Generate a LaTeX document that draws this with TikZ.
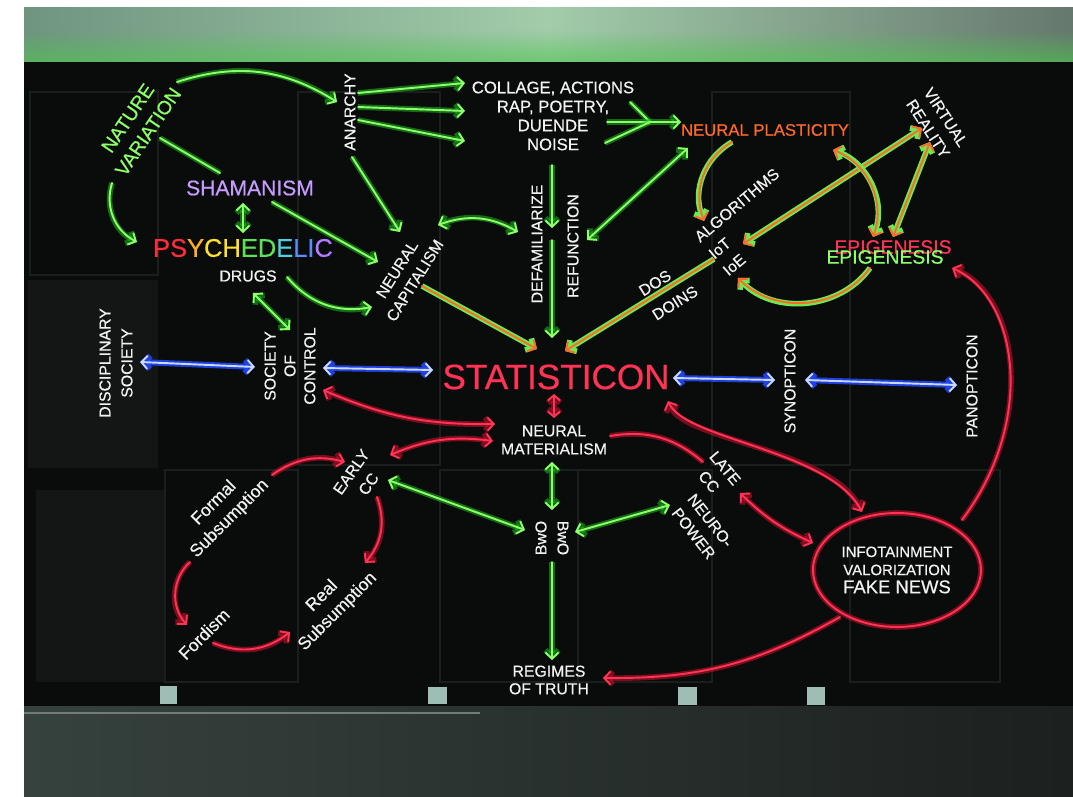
\documentclass[tikz,border=0pt]{standalone}
\usepackage{fontspec}
\setmainfont{Liberation Sans}[FakeBold=0.5]
\usetikzlibrary{arrows.meta,calc,shapes.geometric,fadings}
\definecolor{ngreen}{HTML}{8CFF6A}
\definecolor{ngreenglow}{HTML}{1FB81F}
\definecolor{nred}{HTML}{FF3355}
\definecolor{nredglow}{HTML}{C0102A}
\definecolor{nbluecore}{HTML}{C8D8FF}
\definecolor{nblueglow}{HTML}{2248FF}
\definecolor{norange}{HTML}{FF6A2A}
\definecolor{nwhite}{HTML}{F2F2F2}
\definecolor{npurple}{HTML}{C59BFF}
\definecolor{wall}{HTML}{0A0C0B}
\definecolor{panel}{HTML}{131615}
\definecolor{panelline}{HTML}{1A1E1C}
\definecolor{topL}{HTML}{6F9480}
\definecolor{topM}{HTML}{A2CCAA}
\definecolor{topR}{HTML}{66786E}
\definecolor{floorL}{HTML}{36423E}
\definecolor{floorR}{HTML}{1C201F}
\definecolor{outlet}{HTML}{9DBDB5}
\definecolor{pR}{HTML}{FF2A3A}
\definecolor{pY}{HTML}{FFB020}
\definecolor{pYY}{HTML}{FFE030}
\definecolor{pG}{HTML}{5FE05A}
\definecolor{pC}{HTML}{50D0E0}
\definecolor{pB}{HTML}{5A8CFF}
\definecolor{pP}{HTML}{B07CFF}
\begin{document}
\begin{tikzpicture}[x=0.02cm, y=-0.02cm, >={Straight Barb[length=3.5pt,width=7.5pt]}]
\tikzset{
  lab/.style={text=nwhite, font=\fontsize{9}{11}\selectfont, align=center, inner sep=0pt},
  neon/.style={line width=1.1pt, line cap=round, line join=round},
  gline/.style={neon, draw=ngreen, preaction={draw=ngreenglow, line width=3.2pt, opacity=0.55}},
  rline/.style={neon, draw=nred, preaction={draw=nredglow, line width=3.2pt, opacity=0.6}},
  bline/.style={neon, draw=nbluecore, preaction={draw=nblueglow, line width=3.4pt, opacity=0.85}},
  oline/.style={neon, draw=norange, preaction={draw=ngreen!70!ngreenglow, line width=3.2pt}},
}
\useasboundingbox (0,0) rectangle (1073,797);
% photo background
\fill[white] (0,0) rectangle (1073,797);
\fill[wall] (24,60) rectangle (1073,706);
\shade[left color=topL, right color=topR, middle color=topM] (24,8) rectangle (1073,62);
\fill[ngreenglow!80!white, path fading=north, fill opacity=0.6] (24,30) rectangle (1073,62);
\shade[left color=floorL, right color=floorR] (24,706) rectangle (1073,797);
\draw[floorL!70!white, line width=0.6pt] (24,713) -- (480,713);
% wall panels
\fill[panel] (28,280) rectangle (158,468);
\fill[panel] (36,490) rectangle (165,682);
\draw[panelline, line width=0.8pt] (30,92) rectangle (158,275) (165,470) rectangle (298,682)
  (298,92) rectangle (440,465) (440,470) rectangle (578,682) (578,470) rectangle (712,682)
  (712,92) rectangle (850,465) (850,470) rectangle (1000,682);
% outlets
\fill[outlet] (160,686) rectangle (177,704);
\fill[outlet] (428,687) rectangle (447,704);
\fill[outlet] (678,687) rectangle (697,705);
\fill[outlet] (807,687) rectangle (825,705);

% ---------- nodes ----------
\node[lab, text=ngreen, font=\fontsize{11}{14}\selectfont, rotate=56] (nv) at (138,125) {NATURE\\VARIATION};
\node[lab, text=npurple, font=\fontsize{12}{14}\selectfont] (sham) at (250,188) {SHAMANISM};
\node[lab, font=\fontsize{14.5}{16}\selectfont] (psy) at (243,248)
  {{\color{pR}PS}{\color{pY}Y}{\color{pYY}CH}{\color{pG}ED}{\color{pC}E}{\color{pB}LI}{\color{pP}C}};
\node[lab] (drugs) at (248,276) {DRUGS};
\node[lab, rotate=90] (anar) at (350,112) {ANARCHY};
\node[lab, font=\fontsize{9.5}{10.8}\selectfont] (coll) at (553,116) {COLLAGE, ACTIONS\\RAP, POETRY,\\DUENDE\\NOISE};
\node[lab, text=norange, font=\fontsize{9.5}{11}\selectfont] (np) at (765,130) {NEURAL PLASTICITY};
\node[lab, rotate=-57, font=\fontsize{9}{12}\selectfont] (vr) at (937,123) {VIRTUAL\\REALITY};
\node[lab, rotate=40, align=left, font=\fontsize{9}{12.5}\selectfont] (alg) at (751,222) {ALGORITHMS\\IoT\\IoE};
\node[lab, text=nred, font=\fontsize{11}{12}\selectfont] (epir) at (893,247) {EPIGENESIS};
\node[lab, text=ngreen, font=\fontsize{11}{12}\selectfont] (epig) at (885,257) {EPIGENESIS};
\node[lab, rotate=90] (defam) at (537,244) {DEFAMILIARIZE};
\node[lab, rotate=90] (refun) at (573,246) {REFUNCTION};
\node[lab, rotate=58, font=\fontsize{9}{12}\selectfont] (ncap) at (406,275) {NEURAL\\CAPITALISM};
\node[lab, rotate=32] (dos) at (655,283) {DOS};
\node[lab, rotate=32] (doins) at (675,303) {DOINS};
\node[lab, rotate=90, font=\fontsize{9}{12.5}\selectfont] (disc) at (116,363) {DISCIPLINARY\\SOCIETY};
\node[lab, rotate=90, font=\fontsize{9}{11.3}\selectfont] (soc) at (290,366) {SOCIETY\\OF\\CONTROL};
\node[lab, text=nred, font=\fontsize{20}{22}\selectfont] (stat) at (556,377) {STATISTICON};
\node[lab, rotate=90] (syn) at (790,381) {SYNOPTICON};
\node[lab, rotate=90] (pan) at (972,386) {PANOPTICON};
\node[lab, font=\fontsize{9}{10.3}\selectfont] (nmat) at (554,440) {NEURAL\\MATERIALISM};
\node[lab, rotate=55, font=\fontsize{9}{12}\selectfont] (early) at (360,478) {EARLY\\CC};
\node[lab, rotate=-50, font=\fontsize{9}{12}\selectfont] (late) at (717,475) {LATE\\CC};
\node[lab, rotate=45, font=\fontsize{10}{12.5}\selectfont] (formal) at (222,511) {Formal\\Subsumption};
\node[lab, rotate=45, font=\fontsize{10}{12}\selectfont] (fordism) at (204,634) {Fordism};
\node[lab, rotate=45, font=\fontsize{10}{12.5}\selectfont] (real) at (330,604) {Real\\Subsumption};
\node[lab, rotate=90] (bwoa) at (541,538) {BwO};
\node[lab, rotate=-90] (bwob) at (563,538) {BwO};
\node[lab, rotate=-52, font=\fontsize{9}{12}\selectfont] (neuro) at (702,527) {NEURO-\\POWER};
\node[lab, ellipse, rline, minimum width=3.36cm, minimum height=2.28cm, font=\fontsize{8.5}{10.3}\selectfont] (info) at (897,570)
  {INFOTAINMENT\\VALORIZATION\\{\fontsize{10.5}{11.5}\selectfont FAKE NEWS}};
\node[lab, font=\fontsize{9}{10}\selectfont] (reg) at (549,680) {REGIMES\\OF TRUTH};

% ---------- green connectors ----------
\draw[gline, ->] ($(nv)+(39,-43)$) to[bend left=25] ($(anar)+(-13,-10)$);
\draw[gline, ->] ($(nv)+(-26,58)$) to[bend right=40] ($(psy)+(-106,-6)$);
\draw[gline] ($(nv)+(22,13)$) -- ($(sham)+(-30,-15)$);
\draw[gline, <->] ($(sham)+(-7,15)$) -- ($(psy)+(0,-15)$);
\draw[gline, ->] ($(sham)+(22,14)$) -- ($(ncap)+(-28,-13)$);
\draw[gline, ->] ($(anar)+(2,45)$) -- ($(ncap)+(-6,-43)$);
\draw[gline, ->] ($(drugs)+(39,1)$) to[bend right=30] ($(ncap)+(-34,32)$);
\draw[gline, <->] ($(drugs)+(5,17)$) -- ($(soc)+(0,-36)$);
\draw[gline, ->] ($(anar)+(8,-19)$) -- ($(coll)+(-88,-33)$);
\draw[gline, ->] ($(anar)+(8,-5)$) -- ($(coll)+(-88,-5)$);
\draw[gline, ->] ($(anar)+(8,8)$) -- ($(coll)+(-88,25)$);
\coordinate (cv) at ($(coll)+(97,6)$);
\draw[gline] ($(coll)+(77,-14)$) -- (cv);
\draw[gline] ($(coll)+(54,6)$) -- (cv);
\draw[gline] ($(coll)+(52,27)$) -- (cv);
\draw[gline, ->] (cv) -- ($(np)+(-84,-8)$);
\draw[gline, ->] ($(coll)+(-1,49)$) -- ($(defam)+(15,-16)$);
\draw[gline, ->] ($(defam)+(15,-4)$) -- ($(stat)+(-4,-39)$);
\draw[gline, <->] ($(ncap)+(32,-50)$) to[bend left=25] ($(defam)+(-19,-12)$);
\draw[gline, <->] ($(np)+(-77,18)$) -- ($(refun)+(14,-6)$);
\draw[gline, <->] ($(early)+(28,2)$) -- ($(bwoa)+(-16,-8)$);
\draw[gline, <->] ($(bwob)+(12,-6)$) -- ($(neuro)+(-32,-22)$);
\draw[gline, <->] ($(nmat)+(-2,22)$) -- ($(bwoa)+(11,-28)$);
\draw[gline, ->] ($(bwoa)+(11,24)$) -- ($(reg)+(3,-20)$);

% ---------- orange / green double tubes ----------
\draw[oline, ->] ($(ncap)+(16,11)$) -- ($(stat)+(-19,-28)$);
\draw[oline, ->] ($(alg)+(-37,37)$) -- ($(stat)+(9,-26)$);
\draw[oline, <->] ($(vr)+(-15,5)$) -- ($(alg)+(-8,22)$);
\draw[oline, ->] ($(np)+(-33,12)$) to[bend right=40] ($(alg)+(-47,-1)$);
\draw[oline, <->] ($(np)+(68,20)$) to[bend left=45] ($(epig)+(-12,-20)$);
\draw[oline, <->] ($(vr)+(-7,19)$) -- ($(epir)+(0,-10)$);
\draw[oline, ->] ($(epig)+(-15,11)$) to[bend left=50] ($(alg)+(-13,56)$);

% ---------- blue ----------
\draw[bline, <->] ($(disc)+(24,-1)$) -- ($(soc)+(-35,1)$);
\draw[bline, <->] ($(soc)+(33,2)$) -- ($(stat)+(-123,-7)$);
\draw[bline, <->] ($(stat)+(117,1)$) -- ($(syn)+(-15,-1)$);
\draw[bline, <->] ($(syn)+(15,-1)$) -- ($(pan)+(-15,-1)$);

% ---------- red ----------
\draw[rline, ->] ($(info)+(65,-50)$) .. controls ($(info)+(140,-150)$) and ($(epir)+(125,50)$) .. ($(epir)+(59,21)$);
\draw[rline, {Straight Barb[length=3pt,width=7pt]}-{Straight Barb[length=3pt,width=7pt]}] ($(stat)+(-2,17)$) -- ($(nmat)+(0,-22)$);
\draw[rline, <->] ($(soc)+(33,24)$) to[bend right=12] ($(nmat)+(-59,-16)$);
\draw[rline, <->] ($(nmat)+(-61,1)$) to[bend right=15] ($(early)+(30,-23)$);
\draw[rline] ($(nmat)+(56,-4)$) to[bend left=25] ($(late)+(-14,-13)$);
\draw[rline, <->] ($(stat)+(112,24)$) .. controls ($(stat)+(129,63)$) and ($(info)+(-67,-120)$) .. ($(info)+(-35,-58)$);
\draw[rline, <->] ($(late)+(23,18)$) to[bend right=10] ($(info)+(-84,-27)$);
\draw[rline, ->] ($(info)+(-57,47)$) to[bend left=15] ($(reg)+(54,-2)$);
\draw[rline, ->] ($(formal)+(50,-36)$) to[bend left=25] ($(early)+(-15,-16)$);
\draw[rline, ->] ($(early)+(17,19)$) to[bend left=30] ($(real)+(35,-41)$);
\draw[rline, ->] ($(formal)+(-32,51)$) to[bend right=45] ($(fordism)+(-17,-9)$);
\draw[rline, ->] ($(fordism)+(9,9)$) to[bend right=30] ($(real)+(-40,28)$);
\end{tikzpicture}
\end{document}
